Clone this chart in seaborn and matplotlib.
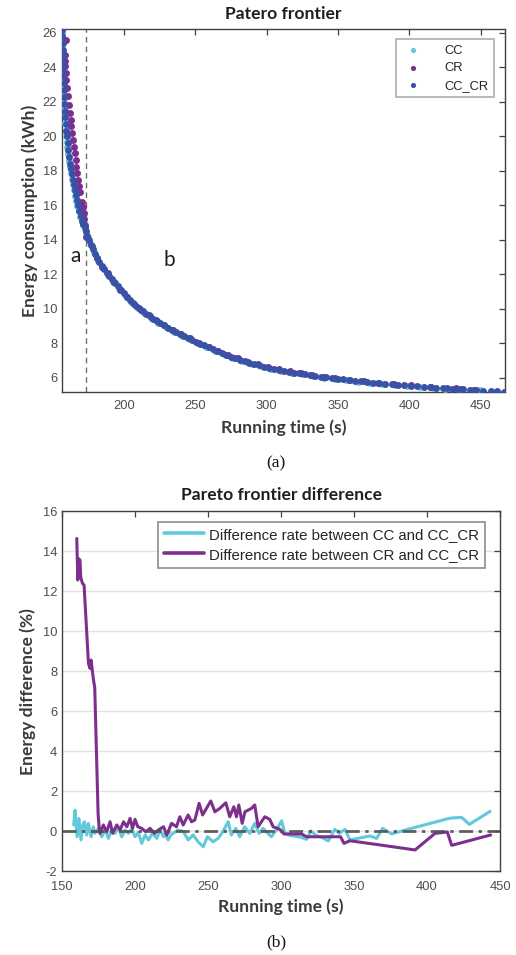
import matplotlib
matplotlib.use('Agg')
import matplotlib.pyplot as plt
import seaborn as sns
import pandas as pd

# ---------------- (a) Pareto frontier points ----------------
cc_x = [156.8, 156.8, 156.8, 156.9, 157.0, 157.1, 157.2, 157.4, 157.6, 157.8, 158.0, 158.3,
        158.6, 159.0, 159.3, 159.7, 160.0, 160.4, 161.0, 161.6, 162.2, 162.9, 163.5, 164.2,
        165.0, 165.8, 166.6, 167.5, 168.4, 169.4, 170.4, 171.5, 172.5, 173.6, 174.8,
        176.2, 179.0, 182.0, 185.3, 188.9, 192.6, 196.6, 200.8, 205.2, 209.7, 214.4, 219.2,
        224.3, 229.5, 234.9, 240.5, 246.1, 251.9, 257.9, 263.9, 270.1, 276.5, 282.9, 289.5,
        296.3, 303.2, 310.3, 317.5, 324.8, 332.4, 340.0, 347.9, 356.0, 364.1, 372.5, 381.0,
        389.8, 398.6, 407.7, 416.6, 425.0, 436.0, 444.7, 449.5]
cc_y = [26.0, 25.6, 25.2, 24.8, 24.4, 24.0, 23.6, 23.2, 22.8, 22.4, 22.0, 21.6,
        21.2, 20.8, 20.4, 20.0, 19.7, 19.4, 19.0, 18.6, 18.2, 17.85, 17.55, 17.25,
        16.9, 16.55, 16.25, 15.95, 15.65, 15.35, 15.1, 14.85, 14.6, 14.4, 14.15,
        13.8, 13.3, 12.8, 12.38, 11.97, 11.58, 11.18, 10.78, 10.41, 10.07, 9.77, 9.47,
        9.2, 8.93, 8.68, 8.44, 8.22, 8.0, 7.78, 7.56, 7.35, 7.15, 6.96, 6.8,
        6.66, 6.52, 6.4, 6.3, 6.2, 6.1, 6.01, 5.93, 5.85, 5.78, 5.71, 5.65,
        5.59, 5.53, 5.47, 5.42, 5.37, 5.31, 5.27, 5.26]

cr_x = [159.3, 158.6, 158.7, 159.0, 159.3, 159.8, 160.3, 160.9, 161.5, 162.1, 162.7, 163.3,
        163.8, 164.4, 165.0, 165.6, 166.2, 166.8, 167.3, 167.9, 168.5, 169.1, 170.7, 171.3,
        171.9, 172.4, 172.8, 173.8,
        177.5, 181.0, 184.8, 188.8, 193.0, 197.4, 202.3, 207.2, 212.3, 217.5, 222.8, 228.5,
        234.4, 240.4, 246.6, 253.0, 259.5, 266.1, 272.9, 279.8, 286.8, 294.0, 301.3, 308.8,
        316.4, 324.2, 332.1, 340.1, 348.3, 358.7, 368.0, 378.0, 389.0, 401.0, 415.0, 432.5,
        436.0, 445.7]
cr_y = [25.57, 24.74, 24.4, 24.06, 23.7, 23.29, 22.8, 22.32, 21.85, 21.35, 20.95, 20.58,
        20.2, 19.8, 19.4, 19.03, 18.65, 18.25, 17.85, 17.48, 17.1, 16.8, 16.22, 15.9,
        15.55, 15.2, 14.87, 14.19,
        13.65, 12.92, 12.45, 12.05, 11.53, 11.1, 10.7, 10.3, 9.95, 9.63, 9.33, 9.05,
        8.77, 8.52, 8.29, 8.03, 7.8, 7.55, 7.33, 7.13, 6.94, 6.78, 6.63, 6.5,
        6.39, 6.27, 6.17, 6.07, 5.98, 5.89, 5.8, 5.72, 5.65, 5.57, 5.48, 5.38,
        5.36, 5.3]

cccr_x = [157.0, 157.0, 157.1, 157.1, 157.2, 157.3, 157.4, 157.6, 157.8, 158.0, 158.2, 158.4,
          158.7, 159.1, 159.4, 159.8, 160.2, 160.7, 161.2, 161.8, 162.4, 163.0, 163.6, 164.3,
          165.0, 165.7, 166.4, 167.1, 167.9, 168.8, 169.7, 170.7, 171.7, 172.6, 173.5, 174.5,
          175.6, 177.0, 178.4, 179.8, 181.3, 182.9, 184.5, 186.2, 188.0, 189.8, 191.7, 193.6,
          195.6, 197.7, 199.8, 201.9, 204.1, 206.3, 208.6, 210.9, 213.2, 215.6, 218.0, 220.5,
          223.0, 225.6, 228.2, 230.9, 233.6, 236.3, 239.1, 241.9, 244.7, 247.6, 250.5, 253.4,
          256.4, 259.4, 262.4, 265.5, 268.6, 271.7, 274.9, 278.1, 281.3, 284.6, 287.9, 291.2,
          294.6, 298.0, 301.5, 305.0, 308.5, 312.1, 315.7, 319.3, 323.0, 326.7, 330.5, 334.3,
          338.1, 342.0, 345.9, 349.9, 353.9, 358.0, 362.1, 366.2, 370.4, 374.6, 378.9, 383.2,
          387.6, 392.0, 396.4, 400.9, 405.4, 410.0, 414.6, 418.5, 423.5, 426.5, 430.0, 434.0,
          438.0, 442.5, 447.0, 452.0, 457.0, 461.5, 466.5]
cccr_y = [26.2, 25.8, 25.4, 25.0, 24.6, 24.2, 23.9, 23.5, 23.1, 22.7, 22.3, 21.9,
          21.5, 21.1, 20.7, 20.3, 20.0, 19.6, 19.2, 18.8, 18.4, 18.1, 17.8, 17.5,
          17.2, 16.9, 16.6, 16.3, 16.0, 15.7, 15.4, 15.1, 14.9, 14.75, 14.5, 14.25,
          14.0, 13.7, 13.45, 13.2, 12.95, 12.7, 12.5, 12.3, 12.1, 11.9, 11.7, 11.5,
          11.3, 11.1, 10.9, 10.7, 10.52, 10.35, 10.18, 10.02, 9.87, 9.72, 9.57, 9.43,
          9.29, 9.16, 9.03, 8.9, 8.77, 8.65, 8.53, 8.42, 8.31, 8.2, 8.09, 7.98,
          7.87, 7.76, 7.65, 7.54, 7.43, 7.33, 7.23, 7.13, 7.04, 6.95, 6.87, 6.79,
          6.72, 6.65, 6.58, 6.52, 6.46, 6.4, 6.35, 6.3, 6.25, 6.2, 6.15, 6.1,
          6.06, 6.02, 5.98, 5.94, 5.9, 5.86, 5.82, 5.79, 5.76, 5.72, 5.69, 5.66,
          5.63, 5.6, 5.57, 5.54, 5.51, 5.48, 5.45, 5.43, 5.4, 5.38, 5.37, 5.35,
          5.32, 5.3, 5.27, 5.25, 5.23, 5.21, 5.2]

# ---------------- (b) difference rates ----------------
diff_cc_x = [158.0, 158.9, 160.3, 161.6, 163.0, 164.2, 165.3, 166.9, 168.0, 169.9, 171.4, 172.6,
             174.9, 177.2, 179.4, 181.8, 184.1, 186.3, 188.6, 190.9, 193.2, 195.5, 197.8, 200.0,
             202.2, 204.6, 206.9, 209.2, 211.9, 214.9, 217.2, 219.5, 220.4, 222.7, 224.8, 226.1,
             229.5, 233.0, 236.4, 239.8, 243.2, 246.7, 249.6, 253.5, 256.9, 260.3, 263.8, 266.0,
             269.0, 271.7, 275.1, 278.6, 282.0, 285.0, 287.7, 291.1, 293.4, 297.0, 300.4, 302.6,
             306.0, 310.0, 314.0, 317.5, 320.5, 324.0, 328.0, 332.3, 336.9, 340.0, 343.8, 347.2,
             360.9, 365.5, 369.6, 375.8, 383.7, 415.7, 423.7, 429.0, 443.2]
diff_cc_y = [0.32, 1.06, -0.27, 0.65, -0.43, 0.3, 0.48, -0.18, 0.4, -0.27, 0.23, -0.1,
             0.15, -0.27, 0.07, -0.35, 0.15, -0.1, 0.23, -0.27, 0.07, -0.1, 0.15, -0.27,
             -0.05, -0.6, -0.18, -0.43, -0.1, -0.35, 0.07, -0.27, -0.1, -0.43, -0.15, -0.1,
             0.07, 0.0, -0.43, -0.18, -0.52, -0.77, -0.27, -0.52, -0.35, 0.0, 0.48, -0.18,
             0.15, -0.27, 0.23, -0.1, 0.4, -0.1, 0.15, -0.1, -0.27, 0.1, 0.53, -0.1,
             -0.2, -0.25, -0.3, -0.4, 0.02, -0.2, -0.3, -0.48, 0.1, -0.1, 0.1, -0.43,
             -0.23, -0.35, 0.15, -0.13, 0.04, 0.66, 0.7, 0.35, 1.0]

diff_cr_x = [160.1, 160.8, 161.2, 162.3, 162.8, 164.0, 165.1, 168.1, 169.2, 169.9, 171.5, 172.4,
             174.7, 175.4, 176.0, 178.3, 180.6, 182.9, 184.7, 187.5, 189.8, 192.1, 194.4, 196.6,
             198.3, 200.0, 201.9, 204.6, 207.4, 210.3, 213.3, 216.0, 219.5, 221.8, 222.7, 225.0,
             228.4, 230.7, 233.0, 236.4, 238.7, 241.0, 243.9, 246.3, 251.9, 254.7, 258.1, 262.2,
             264.9, 267.7, 269.5, 271.1, 273.4, 275.3, 279.8, 282.0, 284.3, 288.9, 292.3, 294.6,
             299.2, 302.0, 314.1, 317.5, 340.8, 343.1, 347.2, 367.8, 391.8, 405.5, 413.9, 416.9,
             443.6]
diff_cr_y = [14.65, 12.57, 13.65, 13.57, 12.73, 12.4, 12.32, 8.4, 8.15, 8.57, 7.6, 7.2,
             0.89, 0.2, -0.1, 0.32, -0.02, 0.48, -0.1, 0.32, 0.07, 0.48, 0.23, 0.65,
             0.15, 0.6, 0.23, 0.15, -0.02, 0.15, -0.1, 0.07, 0.23, -0.18, -0.02, 0.4,
             0.23, 0.73, 0.32, 0.82, 0.48, 0.57, 1.4, 0.82, 1.52, 0.98, 1.15, 1.43,
             0.73, 1.23, 0.73, 1.32, 0.4, 0.98, 1.15, 1.32, 0.23, 0.73, 0.6, 0.23,
             0.1, -0.13, -0.13, -0.27, -0.27, -0.6, -0.47, -0.68, -0.93, -0.1, -0.03, -0.7,
             -0.18]

c_cc = '#63C8DA'
c_cr = '#7E2F8E'
c_cccr = '#3A52A6'
spine_c = '#404040'
tick_c = '#4D4D4D'

sns.set_style('white')
plt.rcParams['font.family'] = ['Liberation Sans', 'DejaVu Sans']
plt.rcParams['axes.unicode_minus'] = False

label_font = dict(family=['Lato', 'DejaVu Sans'], fontweight='bold', fontsize=12.6, color='#3A3A3A')
title_font = dict(family=['Lato', 'DejaVu Sans'], fontweight='bold', fontsize=12.6, color='#1E1E1E')


def style_axes(ax):
    for sp in ax.spines.values():
        sp.set_visible(True)
        sp.set_color(spine_c)
        sp.set_linewidth(1.0)
    ax.tick_params(direction='in', top=True, right=True, length=4, width=0.9,
                   color=spine_c, labelcolor=tick_c, labelsize=9.3)
    ax.tick_params(axis='x', pad=6)
    ax.tick_params(axis='y', pad=3.5)


fig = plt.figure(figsize=(5.16, 9.55), dpi=100)
ax1 = fig.add_axes([0.1202, 0.5895, 0.8585, 0.3801])
ax2 = fig.add_axes([0.1202, 0.0876, 0.8488, 0.3768])

# ---- panel (a) ----
ax1.axvline(173.3, color='#707070', lw=1.0, ls=(0, (4, 3)), zorder=1)
for xs, ys, col, lab in [(cc_x, cc_y, c_cc, 'CC'),
                         (cr_x, cr_y, c_cr, 'CR'),
                         (cccr_x, cccr_y, c_cccr, 'CC_CR')]:
    sns.scatterplot(x=xs, y=ys, color=col, s=25, linewidth=0, ax=ax1, label=lab, zorder=3)

ax1.set_xlim(156.7, 467.1)
ax1.set_ylim(5.17, 26.23)
ax1.set_xticks([200, 250, 300, 350, 400, 450])
ax1.set_yticks(range(6, 27, 2))
style_axes(ax1)
ax1.set_title('Patero frontier', pad=7, **title_font)
ax1.set_xlabel('Running time (s)', labelpad=5, **label_font)
ax1.set_ylabel('Energy consumption (kWh)', labelpad=3, **label_font)
ax1.text(166.3, 13.07, 'a', fontsize=15, family=['Lato', 'DejaVu Sans'], color='#1E1E1E',
         ha='center', va='center')
ax1.text(231.8, 12.83, 'b', fontsize=15, family=['Lato', 'DejaVu Sans'], color='#1E1E1E',
         ha='center', va='center')
leg1 = ax1.legend(loc='upper right', fontsize=9.3, frameon=True, fancybox=False,
                  edgecolor='#9A9A9A', markerscale=0.75, handletextpad=1.5, borderpad=0.45,
                  labelspacing=0.42, bbox_to_anchor=(0.975, 0.973), borderaxespad=0,
                  handlelength=1.8)
leg1.get_frame().set_linewidth(1.2)

# ---- panel (b) ----
sns.lineplot(x=diff_cc_x, y=diff_cc_y, color=c_cc, lw=2.2, sort=False, estimator=None,
             ax=ax2, label='Difference rate between CC and CC_CR', zorder=3)
sns.lineplot(x=diff_cr_x, y=diff_cr_y, color=c_cr, lw=2.2, sort=False, estimator=None,
             ax=ax2, label='Difference rate between CR and CC_CR', zorder=4)
ax2.axhline(0, color='#505050', lw=2.0, ls=(0, (5, 2, 1.2, 2)), zorder=5, alpha=0.9)

ax2.set_xlim(150, 450)
ax2.set_ylim(-2, 16)
ax2.set_xticks(range(150, 451, 50))
ax2.set_yticks(range(-2, 17, 2))
ax2.yaxis.grid(True, color='#E2E2E2', lw=1.0)
ax2.xaxis.grid(False)
ax2.set_axisbelow(True)
style_axes(ax2)
ax2.tick_params(axis='x', pad=7)
ax2.set_title('Pareto frontier difference', pad=8, **title_font)
ax2.set_xlabel('Running time (s)', labelpad=4, **label_font)
ax2.set_ylabel('Energy difference (%)', labelpad=5, **label_font)
leg2 = ax2.legend(loc='upper right', fontsize=10.8, frameon=True, fancybox=False,
                  edgecolor='#707070', handlelength=2.7, handletextpad=0.3, borderpad=0.4,
                  labelspacing=0.4, bbox_to_anchor=(0.965, 0.972), borderaxespad=0)
leg2.get_frame().set_linewidth(1.2)
for line in leg2.get_lines():
    line.set_linewidth(2.6)

fig.text(0.535, 1 - 463 / 955, '(a)', family=['Liberation Serif', 'DejaVu Serif'],
         fontsize=12.5, ha='center', va='center', color='#111111')
fig.text(0.535, 1 - 942 / 955, '(b)', family=['Liberation Serif', 'DejaVu Serif'],
         fontsize=12.5, ha='center', va='center', color='#111111')

fig.savefig('out.png', dpi=100)
